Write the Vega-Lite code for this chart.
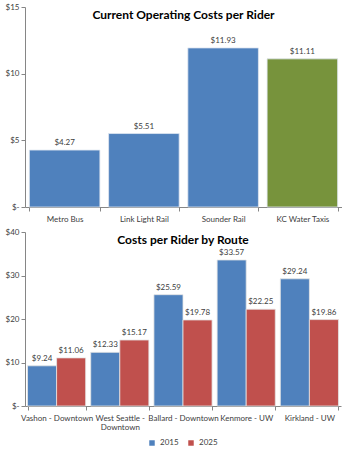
{
  "$schema": "https://vega.github.io/schema/vega-lite/v6.json",
  "padding": {"left": 5, "top": 3, "right": 0, "bottom": 0},
  "background": "white",
  "spacing": 5,
  "config": {
    "font": "Lato",
    "view": {"stroke": null},
    "axis": {
      "labelFont": "Lato", "labelFontSize": 8, "labelColor": "#404040",
      "domainColor": "#868686", "tickColor": "#868686", "grid": false, "title": null
    },
    "legend": {"layout": {"bottom": {"anchor": "middle"}}},
    "title": {"font": "Lato", "fontSize": 12, "fontWeight": "bold", "color": "#000000"}
  },
  "resolve": {"scale": {"color": "independent"}},
  "vconcat": [
    {
      "width": 317, "height": 200,
      "title": {"text": "Current Operating Costs per Rider", "anchor": "middle", "offset": -19},
      "data": {"values": [
        {"mode": "Metro Bus", "cost": 4.27, "kind": "land"},
        {"mode": "Link Light Rail", "cost": 5.51, "kind": "land"},
        {"mode": "Sounder Rail", "cost": 11.93, "kind": "land"},
        {"mode": "KC Water Taxis", "cost": 11.11, "kind": "water"}
      ]},
      "encoding": {
        "x": {"field": "mode", "type": "nominal", "sort": null,
          "scale": {"paddingInner": 0.11, "paddingOuter": 0.055},
          "axis": {"labelAngle": 0, "tickBand": "extent", "tickSize": 4, "labelPadding": 4}},
        "y": {"field": "cost", "type": "quantitative",
          "scale": {"domain": [0, 15]},
          "axis": {"values": [0, 5, 10, 15], "tickSize": 4,
            "labelExpr": "datum.value == 0 ? '$-' : '$' + datum.value"}}
      },
      "layer": [
        {"mark": {"type": "bar", "stroke": "#dfe6f0", "strokeWidth": 0.8},
          "encoding": {"color": {"field": "kind", "type": "nominal",
            "scale": {"domain": ["land", "water"], "range": ["#4F81BD", "#77933C"]}, "legend": null}}},
        {"mark": {"type": "text", "baseline": "bottom", "dy": -3, "fontSize": 8, "color": "#404040"},
          "encoding": {"text": {"field": "cost", "type": "quantitative", "format": "$.2f"}}}
      ]
    },
    {
      "width": 316, "height": 174,
      "title": {"text": "Costs per Rider by Route", "anchor": "middle", "offset": -19},
      "data": {"values": [
        {"route": "Vashon - Downtown", "year": "2015", "cost": 9.24},
        {"route": "Vashon - Downtown", "year": "2025", "cost": 11.06},
        {"route": "West Seattle - Downtown", "year": "2015", "cost": 12.33},
        {"route": "West Seattle - Downtown", "year": "2025", "cost": 15.17},
        {"route": "Ballard - Downtown", "year": "2015", "cost": 25.59},
        {"route": "Ballard - Downtown", "year": "2025", "cost": 19.78},
        {"route": "Kenmore - UW", "year": "2015", "cost": 33.57},
        {"route": "Kenmore - UW", "year": "2025", "cost": 22.25},
        {"route": "Kirkland - UW", "year": "2015", "cost": 29.24},
        {"route": "Kirkland - UW", "year": "2025", "cost": 19.86}
      ]},
      "encoding": {
        "x": {"field": "route", "type": "nominal", "sort": null,
          "scale": {"paddingInner": 0.08, "paddingOuter": 0.04},
          "axis": {"labelAngle": 0, "tickBand": "extent", "tickSize": 4, "labelPadding": 4, "labelLineHeight": 9,
            "labelExpr": "datum.label == 'West Seattle - Downtown' ? ['West Seattle -', 'Downtown'] : datum.label"}},
        "xOffset": {"field": "year", "type": "nominal"},
        "y": {"field": "cost", "type": "quantitative",
          "scale": {"domain": [0, 40]},
          "axis": {"values": [0, 10, 20, 30, 40], "tickSize": 4,
            "labelExpr": "datum.value == 0 ? '$-' : '$' + datum.value"}}
      },
      "layer": [
        {"mark": {"type": "bar", "stroke": "#e6e6e6", "strokeWidth": 0.8},
          "encoding": {"color": {"field": "year", "type": "nominal",
            "scale": {"domain": ["2015", "2025"], "range": ["#4F81BD", "#C0504D"]},
            "legend": {"orient": "bottom", "title": null, "direction": "horizontal",
              "symbolType": "square", "symbolSize": 30, "labelFontSize": 8, "labelColor": "#404040",
              "symbolStrokeWidth": 0, "columnPadding": 8, "offset": 8}}}},
        {"mark": {"type": "text", "baseline": "bottom", "dy": -3, "fontSize": 8, "color": "#404040"},
          "encoding": {"text": {"field": "cost", "type": "quantitative", "format": "$.2f"}}}
      ]
    }
  ]
}
